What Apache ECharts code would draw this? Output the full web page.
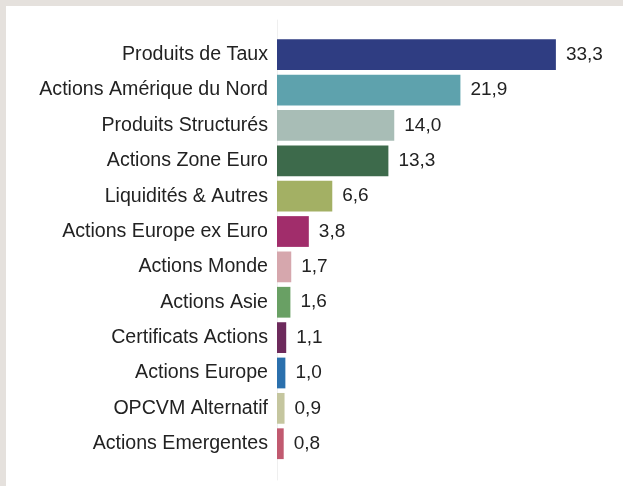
<!DOCTYPE html>
<html>
<head>
<meta charset="utf-8">
<script src="https://cdn.jsdelivr.net/npm/echarts@6/dist/echarts.min.js"></script>
<style>
  html, body { margin: 0; padding: 0; }
  #wrap { position: relative; width: 623px; height: 486px; background: #e5e1dd; overflow: hidden; }
  #chart { position: absolute; left: 6px; top: 6px; width: 617px; height: 480px; background: #ffffff; }
</style>
</head>
<body>
<div id="wrap"><div id="chart"></div></div>
<script>
const categories = [
  'Produits de Taux',
  'Actions Amérique du Nord',
  'Produits Structurés',
  'Actions Zone Euro',
  'Liquidités & Autres',
  'Actions Europe ex Euro',
  'Actions Monde',
  'Actions Asie',
  'Certificats Actions',
  'Actions Europe',
  'OPCVM Alternatif',
  'Actions Emergentes'
];
const values = [33.3, 21.9, 14.0, 13.3, 6.6, 3.8, 1.7, 1.6, 1.1, 1.0, 0.9, 0.8];
const colors = [
  '#2f3d82', '#5ea2ad', '#a8bdb6', '#3d6a4b', '#a3b064', '#a12d6b',
  '#d6a7ad', '#69a064', '#6d2a5c', '#2b70ad', '#c5c69f', '#c15a70'
];

const chart = echarts.init(document.getElementById('chart'), null, { renderer: 'canvas' });
const font = 'Liberation Sans, Arial, sans-serif';
const option = {
  backgroundColor: '#ffffff',
  animation: false,
  grid: [
    { left: 271, right: 11, top: 31, bottom: 24.6 },
    { left: 271, right: 11, top: 14, bottom: 6 }
  ],
  xAxis: [
    { gridIndex: 0, type: 'value', min: 0, max: 40, show: false },
    { gridIndex: 1, type: 'value', min: 0, max: 40, show: false }
  ],
  yAxis: [
    {
      gridIndex: 0,
      type: 'category',
      inverse: true,
      data: categories,
      axisLine: { show: false },
      axisTick: { show: false },
      axisLabel: { color: '#222222', fontFamily: font, fontSize: 19.6, margin: 9 }
    },
    {
      gridIndex: 1,
      type: 'value',
      min: 0, max: 1,
      axisLine: { show: true, lineStyle: { color: '#efefef', width: 1 } },
      axisTick: { show: false },
      axisLabel: { show: false },
      splitLine: { show: false }
    }
  ],
  series: [{
    type: 'bar',
    xAxisIndex: 0,
    yAxisIndex: 0,
    barCategoryGap: '13%',
    data: values.map((v, i) => ({ value: v, itemStyle: { color: colors[i] } })),
    label: {
      show: true,
      position: 'right',
      distance: 10,
      color: '#222222',
      fontFamily: font,
      fontSize: 19,
      formatter: p => p.value.toFixed(1).replace('.', ',')
    }
  }]
};
chart.setOption(option);
</script>
</body>
</html>
